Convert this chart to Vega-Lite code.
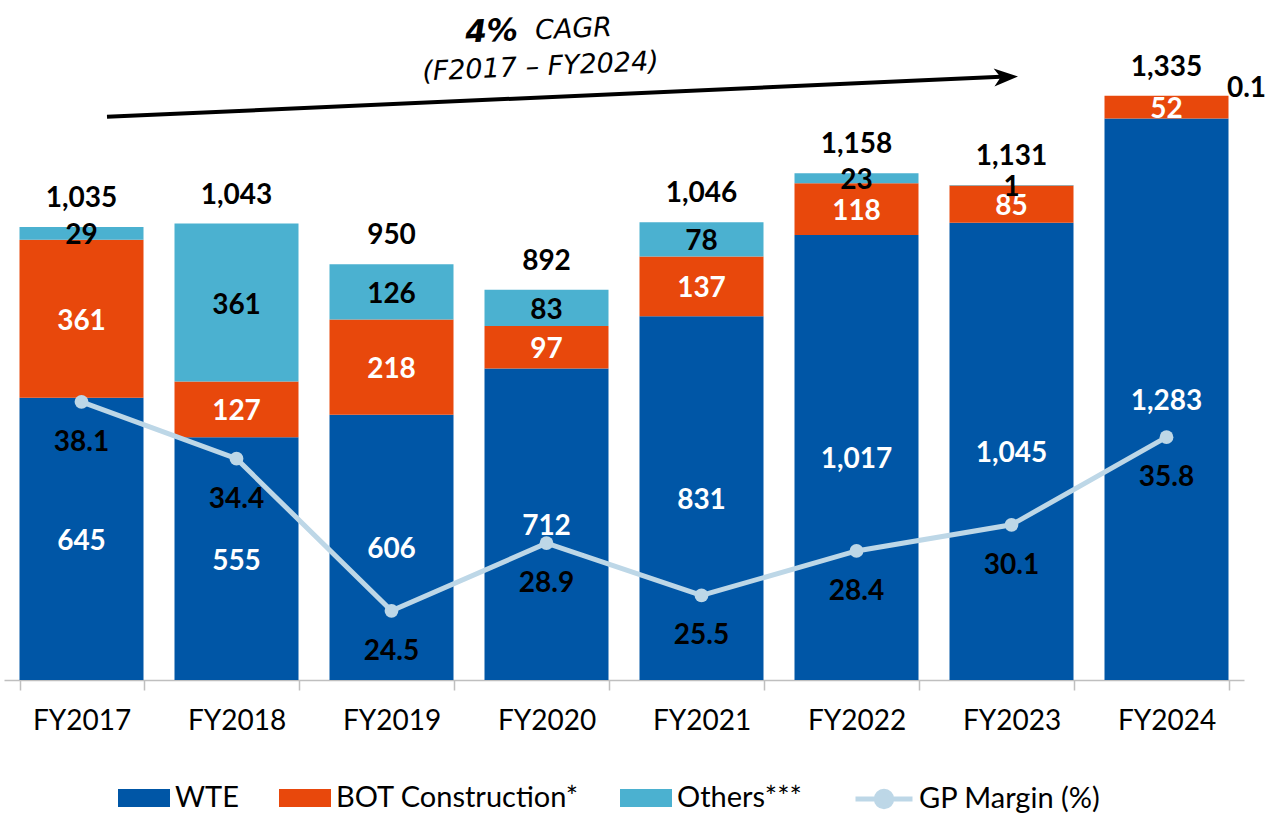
{
  "$schema": "https://vega.github.io/schema/vega-lite/v6.json",
  "autosize": "none",
  "width": 1240,
  "height": 680,
  "padding": {"left": 4, "top": 0, "right": 27, "bottom": 133},
  "background": "white",
  "config": {"view": {"stroke": null}, "font": "Lato"},
  "datasets": {
    "rev": [
      {"year": "FY2017", "series": "WTE", "value": 645},
      {"year": "FY2017", "series": "BOT Construction*", "value": 361},
      {"year": "FY2017", "series": "Others***", "value": 29},
      {"year": "FY2018", "series": "WTE", "value": 555},
      {"year": "FY2018", "series": "BOT Construction*", "value": 127},
      {"year": "FY2018", "series": "Others***", "value": 361},
      {"year": "FY2019", "series": "WTE", "value": 606},
      {"year": "FY2019", "series": "BOT Construction*", "value": 218},
      {"year": "FY2019", "series": "Others***", "value": 126},
      {"year": "FY2020", "series": "WTE", "value": 712},
      {"year": "FY2020", "series": "BOT Construction*", "value": 97},
      {"year": "FY2020", "series": "Others***", "value": 83},
      {"year": "FY2021", "series": "WTE", "value": 831},
      {"year": "FY2021", "series": "BOT Construction*", "value": 137},
      {"year": "FY2021", "series": "Others***", "value": 78},
      {"year": "FY2022", "series": "WTE", "value": 1017},
      {"year": "FY2022", "series": "BOT Construction*", "value": 118},
      {"year": "FY2022", "series": "Others***", "value": 23},
      {"year": "FY2023", "series": "WTE", "value": 1045},
      {"year": "FY2023", "series": "BOT Construction*", "value": 85},
      {"year": "FY2023", "series": "Others***", "value": 1},
      {"year": "FY2024", "series": "WTE", "value": 1283},
      {"year": "FY2024", "series": "BOT Construction*", "value": 52},
      {"year": "FY2024", "series": "Others***", "value": 0.1}
    ],
    "margin": [
      {"year": "FY2017", "margin": 38.1},
      {"year": "FY2018", "margin": 34.4},
      {"year": "FY2019", "margin": 24.5},
      {"year": "FY2020", "margin": 28.9},
      {"year": "FY2021", "margin": 25.5},
      {"year": "FY2022", "margin": 28.4},
      {"year": "FY2023", "margin": 30.1},
      {"year": "FY2024", "margin": 35.8}
    ],
    "arrow": [{"year": "FY2017", "year2": "FY2023", "v": 1287, "v2": 1379}],
    "arrowhead": [{"year": "FY2023", "v": 1378}],
    "cagr": [{"year": "FY2020", "v": 1486, "big": "4%", "small": "CAGR", "v2": 1401, "period": "(F2017 – FY2024)"}]
  },
  "resolve": {"scale": {"y": "independent"}},
  "layer": [
    {
      "data": {"name": "rev"},
      "transform": [{"calculate": "indexof(['WTE','BOT Construction*','Others***'], datum.series)", "as": "ord"}],
      "mark": {"type": "bar"},
      "encoding": {
        "x": {"field": "year", "type": "nominal", "title": null,
              "scale": {"paddingInner": 0.2, "paddingOuter": 0.1},
              "axis": {"labelAngle": 0, "labelFont": "Lato", "labelFontSize": 28, "labelColor": "black",
                       "labelPadding": 17, "domainColor": "#BFBFBF", "domainWidth": 1.5,
                       "tickColor": "#BFBFBF", "tickWidth": 1.5, "tickSize": 10, "tickBand": "extent"}},
        "y": {"aggregate": "sum", "field": "value", "type": "quantitative", "stack": "zero",
              "scale": {"domain": [0, 1554], "nice": false, "zero": true}, "axis": null},
        "color": {"field": "series", "type": "nominal",
                  "scale": {"domain": ["WTE", "BOT Construction*", "Others***"], "range": ["#0056A6", "#E8480C", "#4BB1D0"]},
                  "legend": {"orient": "none", "legendX": 114, "legendY": 772, "direction": "horizontal", "title": null,
                             "symbolType": "M-1,-0.35H1V0.35H-1Z", "symbolSize": 2704, "symbolStrokeWidth": 0,
                             "labelFont": "Lato", "labelFontSize": 29, "labelColor": "black", "labelOffset": 5,
                             "columnPadding": 40, "padding": 0, "labelLimit": 400}},
        "order": {"field": "ord", "type": "quantitative"}
      }
    },
    {
      "data": {"name": "rev"},
      "transform": [
        {"calculate": "indexof(['WTE','BOT Construction*','Others***'], datum.series)", "as": "ord"},
        {"stack": "value", "groupby": ["year"], "sort": [{"field": "ord"}], "as": ["v0", "v1"]},
        {"calculate": "(datum.v0 + datum.v1) / 2", "as": "mid"},
        {"filter": "!(datum.year === 'FY2024' && datum.series === 'Others***')"}
      ],
      "mark": {"type": "text", "font": "Lato", "fontWeight": "bold", "fontSize": 28, "baseline": "middle", "dy": 3},
      "encoding": {
        "x": {"field": "year", "type": "nominal", "title": null},
        "y": {"field": "mid", "type": "quantitative", "scale": {"domain": [0, 1554], "nice": false}, "axis": null},
        "text": {"field": "value", "type": "quantitative", "format": ","},
        "color": {"condition": {"test": "datum.series === 'Others***'", "value": "black"}, "value": "white"}
      }
    },
    {
      "data": {"name": "rev"},
      "transform": [
        {"joinaggregate": [{"op": "sum", "field": "value", "as": "tot"}], "groupby": ["year"]},
        {"filter": "datum.year === 'FY2024' && datum.series === 'Others***'"}
      ],
      "mark": {"type": "text", "font": "Lato", "fontWeight": "bold", "fontSize": 28, "baseline": "middle", "dx": 80, "dy": -7, "color": "black"},
      "encoding": {
        "x": {"field": "year", "type": "nominal", "title": null},
        "y": {"field": "tot", "type": "quantitative", "scale": {"domain": [0, 1554], "nice": false}, "axis": null},
        "text": {"field": "value", "type": "quantitative", "format": ","}
      }
    },
    {
      "data": {"name": "rev"},
      "mark": {"type": "text", "font": "Lato", "fontWeight": "bold", "fontSize": 28, "baseline": "middle", "dy": -28, "color": "black"},
      "encoding": {
        "x": {"field": "year", "type": "nominal", "title": null},
        "y": {"aggregate": "sum", "field": "value", "type": "quantitative", "scale": {"domain": [0, 1554], "nice": false}, "axis": null},
        "text": {"aggregate": "sum", "field": "value", "type": "quantitative", "format": ",.0f"}
      }
    },
    {
      "data": {"name": "margin"},
      "mark": {"type": "line", "strokeWidth": 5, "color": "#BDD7E7"},
      "encoding": {
        "x": {"field": "year", "type": "nominal", "title": null},
        "y": {"field": "margin", "type": "quantitative", "scale": {"domain": [20, 64.25], "nice": false, "zero": false}, "axis": null},
        "stroke": {"datum": "GP Margin (%)", "type": "nominal",
                   "scale": {"range": ["#BDD7E7"]},
                   "legend": {"orient": "none", "legendX": 849, "legendY": 768, "title": null,
                              "symbolType": "M-1,0H1M0.27,0A0.27,0.27 0 1,1 -0.27,0A0.27,0.27 0 1,1 0.27,0Z",
                              "symbolSize": 3249, "symbolStrokeWidth": 5,
                              "labelFont": "Lato", "labelFontSize": 29, "labelColor": "black", "labelOffset": 4, "padding": 0, "labelLimit": 400,
                              "encode": {"symbols": {"update": {"fill": {"value": "#BDD7E7"}, "stroke": {"value": "#BDD7E7"}}}}}}
      }
    },
    {
      "data": {"name": "margin"},
      "mark": {"type": "point", "filled": true, "size": 190, "color": "#BDD7E7", "opacity": 1},
      "encoding": {
        "x": {"field": "year", "type": "nominal", "title": null},
        "y": {"field": "margin", "type": "quantitative", "scale": {"domain": [20, 64.25], "nice": false, "zero": false}, "axis": null}
      }
    },
    {
      "data": {"name": "margin"},
      "mark": {"type": "text", "font": "Lato", "fontWeight": "bold", "fontSize": 28, "baseline": "middle", "dy": 41, "color": "black"},
      "encoding": {
        "x": {"field": "year", "type": "nominal", "title": null},
        "y": {"field": "margin", "type": "quantitative", "scale": {"domain": [20, 64.25], "nice": false, "zero": false}, "axis": null},
        "text": {"field": "margin", "type": "quantitative", "format": ".1f"}
      }
    },
    {
      "data": {"name": "arrow"},
      "mark": {"type": "rule", "strokeWidth": 4, "color": "black", "xOffset": 25.5, "x2Offset": -5},
      "encoding": {
        "x": {"field": "year", "type": "nominal", "title": null},
        "x2": {"field": "year2"},
        "y": {"field": "v", "type": "quantitative", "scale": {"domain": [0, 1554], "nice": false}, "axis": null},
        "y2": {"field": "v2"}
      }
    },
    {
      "data": {"name": "arrowhead"},
      "mark": {"type": "point", "filled": true, "color": "black", "opacity": 1, "size": 576, "angle": 357.4,
               "shape": "M1,0L-1,-0.75L-0.45,0L-1,0.75Z", "xOffset": -5.5},
      "encoding": {
        "x": {"field": "year", "type": "nominal", "title": null},
        "y": {"field": "v", "type": "quantitative", "scale": {"domain": [0, 1554], "nice": false}, "axis": null}
      }
    },
    {
      "data": {"name": "cagr"},
      "mark": {"type": "text", "font": "DejaVu Sans", "fontWeight": "bold", "fontStyle": "italic", "fontSize": 31, "baseline": "middle", "align": "center", "dx": -55, "angle": 357.4, "color": "black"},
      "encoding": {
        "x": {"field": "year", "type": "nominal", "title": null},
        "y": {"field": "v", "type": "quantitative", "scale": {"domain": [0, 1554], "nice": false}, "axis": null},
        "text": {"field": "big"}
      }
    },
    {
      "data": {"name": "cagr"},
      "mark": {"type": "text", "font": "DejaVu Sans", "fontStyle": "italic", "fontSize": 27, "baseline": "middle", "align": "center", "dx": 27, "dy": 1, "angle": 357.4, "color": "black"},
      "encoding": {
        "x": {"field": "year", "type": "nominal", "title": null},
        "y": {"field": "v", "type": "quantitative", "scale": {"domain": [0, 1554], "nice": false}, "axis": null},
        "text": {"field": "small"}
      }
    },
    {
      "data": {"name": "cagr"},
      "mark": {"type": "text", "font": "DejaVu Sans", "fontStyle": "italic", "fontSize": 27, "baseline": "middle", "align": "center", "dx": -6, "angle": 357.4, "color": "black"},
      "encoding": {
        "x": {"field": "year", "type": "nominal", "title": null},
        "y": {"field": "v2", "type": "quantitative", "scale": {"domain": [0, 1554], "nice": false}, "axis": null},
        "text": {"field": "period"}
      }
    }
  ]
}
